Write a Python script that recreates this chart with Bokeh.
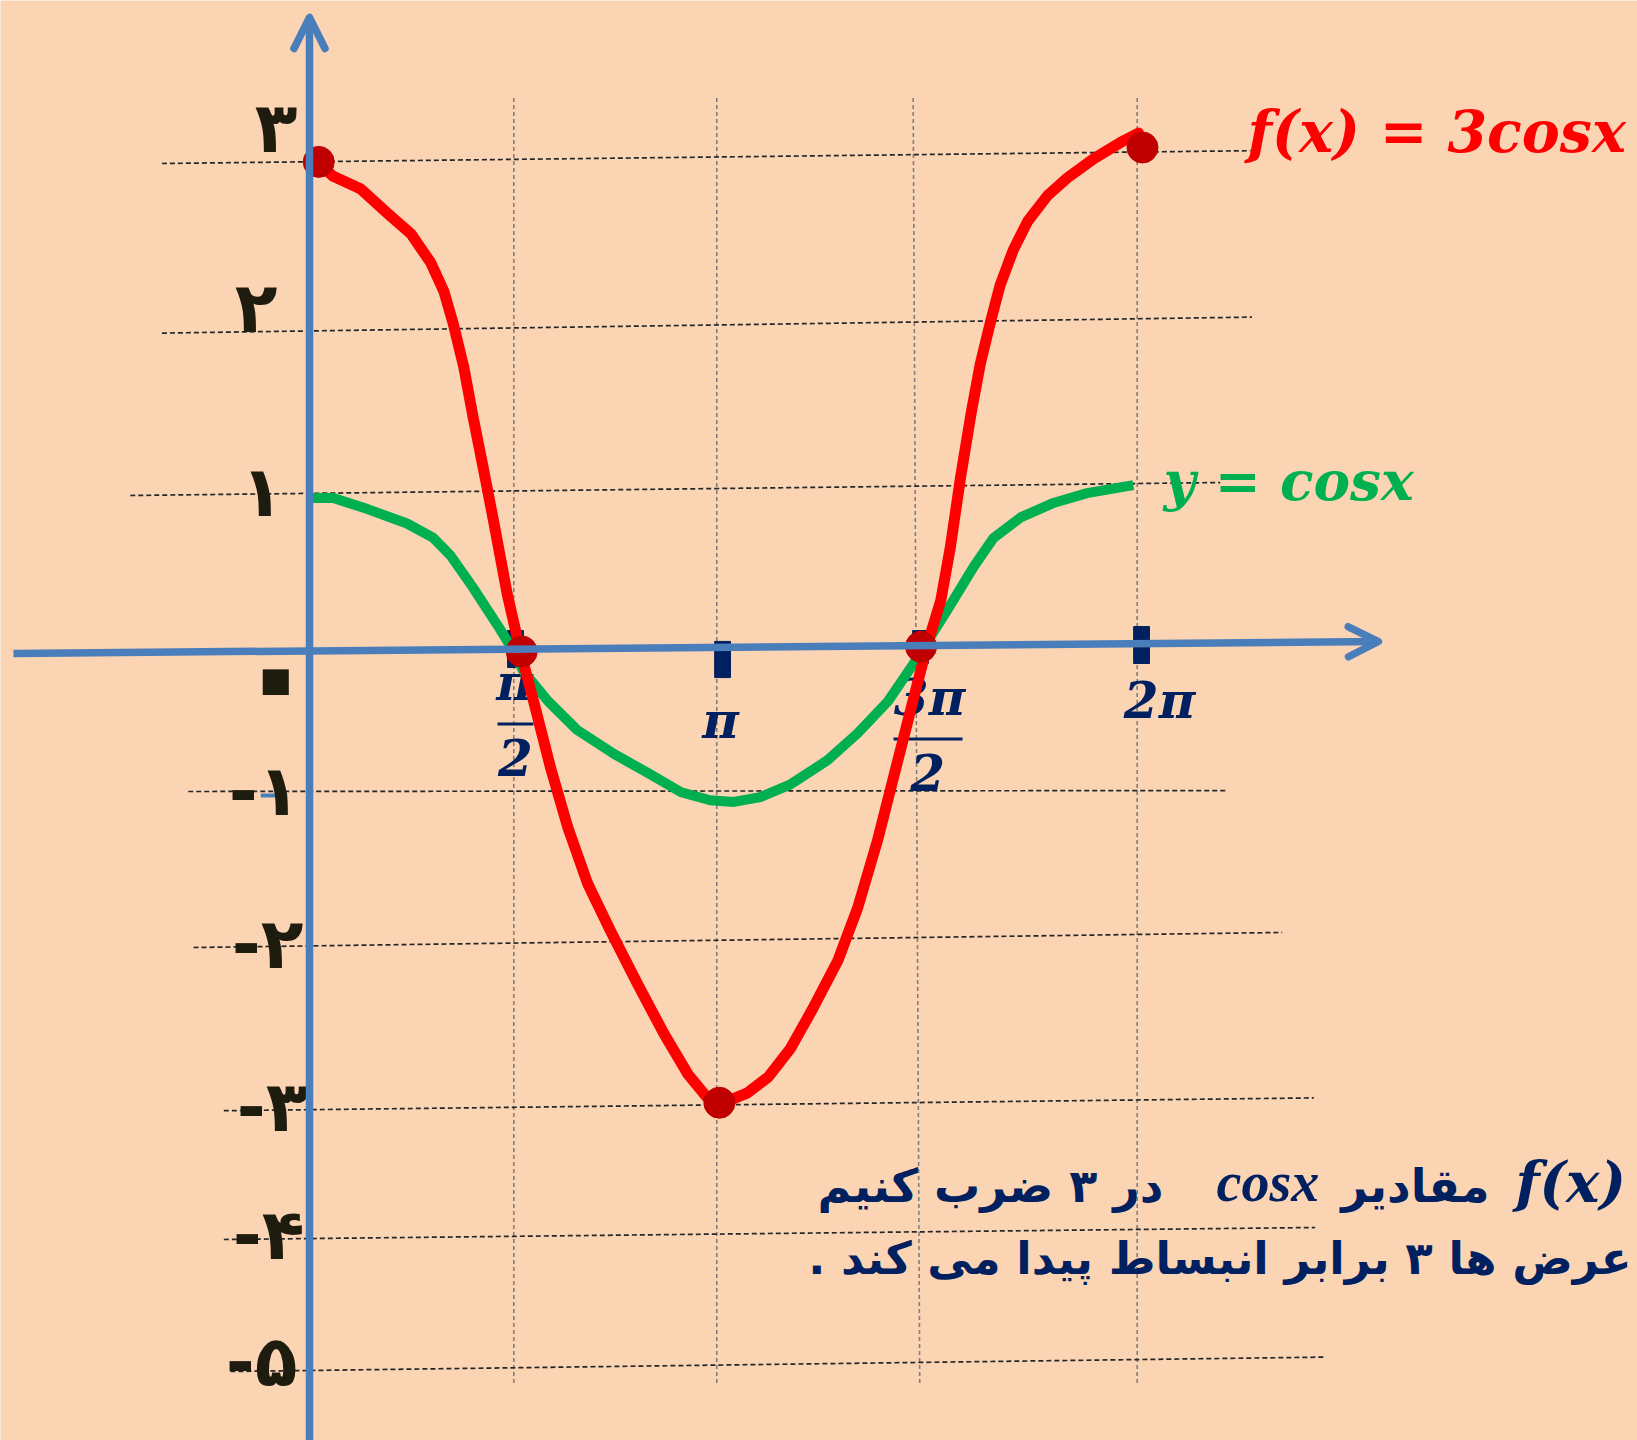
from bokeh.plotting import figure
from bokeh.models import Range1d, Arrow, OpenHead
from bokeh.core.properties import value
from bokeh.embed import file_html
from bokeh.resources import INLINE

# ---------------- data (x in radians, y in grid units) ----------------
# sketched curve of f(x) = 3cos x
red_x = [0.07, 0.18, 0.39, 0.59, 0.77, 0.92, 1.02, 1.09, 1.17, 1.24,
         1.32, 1.40, 1.50, 1.60, 1.70, 1.83, 1.96, 2.11, 2.28, 2.49,
         2.69, 2.87, 3.02, 3.17, 3.32, 3.48, 3.65, 3.82, 4.01, 4.16,
         4.31, 4.43, 4.56, 4.69, 4.79, 4.86, 4.94, 5.02, 5.09, 5.17,
         5.24, 5.34, 5.45, 5.60, 5.75, 5.95, 6.15, 6.29]
red_y = [3.05, 2.97, 2.89, 2.74, 2.61, 2.43, 2.25, 2.05, 1.78, 1.47,
         1.14, 0.80, 0.36, 0.00, -0.31, -0.73, -1.10, -1.45, -1.74, -2.08,
         -2.39, -2.64, -2.79, -2.81, -2.76, -2.66, -2.48, -2.23, -1.93, -1.60,
         -1.18, -0.79, -0.37, 0.05, 0.32, 0.64, 1.09, 1.49, 1.80, 2.07,
         2.29, 2.51, 2.69, 2.85, 2.96, 3.08, 3.18, 3.24]

# sketched curve of y = cos x
green_x = [0.00, 0.18, 0.44, 0.74, 0.94, 1.07, 1.24, 1.43, 1.55, 1.62,
           1.81, 2.03, 2.31, 2.57, 2.82, 3.04, 3.22, 3.42, 3.65, 3.93,
           4.16, 4.39, 4.58, 4.71, 4.84, 5.04, 5.19, 5.40, 5.65, 5.90, 6.25]
green_y = [0.96, 0.96, 0.89, 0.80, 0.71, 0.60, 0.40, 0.16, 0.00, -0.12,
           -0.31, -0.49, -0.64, -0.76, -0.88, -0.93, -0.94, -0.91, -0.83, -0.68,
           -0.51, -0.31, -0.08, 0.09, 0.26, 0.53, 0.71, 0.84, 0.93, 0.99, 1.04]

# key points of f(x): 0, pi/2, pi, 3pi/2, 2pi
dot_x = [0.07, 1.61, 3.11, 4.64, 6.32]
dot_y = [3.06, 0.00, -2.82, 0.03, 3.15]

# horizontal dashed guides (left end / right end)
hgrid_x0 = [-1.12, -1.12, -1.36, -0.92, -0.88, -0.65, -0.65, -0.60]
hgrid_x1 = [7.14, 7.15, 6.91, 6.97, 7.38, 7.62, 7.63, 7.70]
hgrid_y0 = [3.05, 1.99, 0.975, -0.875, -1.85, -2.87, -3.675, -4.50]
hgrid_y1 = [3.13, 2.09, 1.056, -0.869, -1.756, -2.79, -3.60, -4.41]

# vertical dashed guides at pi/2, pi, 3pi/2, 2pi (top / bottom)
vgrid_top_x = [1.55, 3.09, 4.58, 6.28]
vgrid_bot_x = [1.55, 3.09, 4.63, 6.28]
vgrid_top, vgrid_bot = 3.46, -4.58

# y-axis labels and the level each one sits on
ylab_text = ["۳", "۲", "۱", "-۱", "-۲", "-۳", "-۴", "-۵"]
ylab_level = [3.06, 2.00, 0.99, -0.88, -1.84, -2.87, -3.67, -4.50]
zero_label = "۰"

# x-axis ticks
tick_x = [1.563, 3.134, 4.636, 6.313]
tick_top = [0.131, 0.063, 0.131, 0.156]
tick_bot = [-0.10, -0.163, -0.075, -0.075]
xl_text = ["π", "2", "π", "3π", "2", "2π"]
xl_tick = [0, 0, 1, 2, 2, 3]

# ---------------- styling ----------------
BG = "#FBD4B4"
BLUE = "#4A7EBB"
NAVY = "#002060"
INK = "#1E1B0F"
RED = "#FF0000"
DARKRED = "#C00000"
GREEN = "#00B050"

PX_X = 131.8   # pixels per x unit
PX_Y = 160.0   # pixels per y unit
X0 = -2.3445
Y1 = 4.06875
W, H = 1637, 1440


def lift(size):
    # pull the alphabetic baseline up to where it is meant to sit
    return -0.37 * size


p = figure(width=W, height=H,
           x_range=Range1d(X0, X0 + W / PX_X),
           y_range=Range1d(Y1 - H / PX_Y, Y1),
           output_backend="svg", toolbar_location=None,
           x_axis_location=None, y_axis_location=None,
           min_border=0, background_fill_color=BG, border_fill_color=BG)
p.grid.visible = False
p.outline_line_color = None

# guides
p.segment(x0=vgrid_top_x, y0=vgrid_top, x1=vgrid_bot_x, y1=vgrid_bot,
          line_color="#7F7F7F", line_width=1.6, line_dash="4 3")
p.segment(x0=hgrid_x0, y0=hgrid_y0, x1=hgrid_x1, y1=hgrid_y1,
          line_color="#262626", line_width=1.7, line_dash="5 3")

# axes with open arrow heads
p.add_layout(Arrow(end=OpenHead(size=31, line_color=BLUE, line_width=7.5, line_cap="round", line_join="round"),
                   x_start=0.0, y_start=Y1 - H / PX_Y, x_end=0.0, y_end=3.9625,
                   line_color=BLUE, line_width=7.5))
p.add_layout(Arrow(end=OpenHead(size=30, line_color=BLUE, line_width=7.5, line_cap="round", line_join="round"),
                   x_start=-2.246, y_start=-0.0125, x_end=8.11, y_end=0.0625,
                   line_color=BLUE, line_width=7.5))
p.segment(x0=[-0.37], y0=[-0.90], x1=[-0.17], y1=[-0.90], line_color=BLUE, line_width=4)

# ticks on the x axis
p.vbar(x=tick_x, width=0.12, top=tick_top, bottom=tick_bot, color=NAVY)

# y labels
ysize = 70
p.text(x=0, y=ylab_level, text=ylab_text,
       x_offset=[-12, -32, -26, -9, -6, -1, -5, -12],
       y_offset=[d + lift(ysize) for d in [-8, 2, 25, 25, 24, 22, 22, 16]],
       text_align="right", text_baseline="alphabetic",
       text_font=value("DejaVu Sans"), text_font_style="bold",
       text_font_size=f"{ysize}px", text_color=INK)
p.text(x=[0], y=[0], text=[zero_label], x_offset=12, y_offset=20,
       text_align="right", text_baseline="alphabetic",
       text_font=value("DejaVu Sans"), text_font_style="bold",
       text_font_size="150px", text_color=INK)

# x labels
math_font = value("DejaVu Serif")
xsize = 50
p.text(x=[tick_x[i] for i in xl_tick], y=0, text=xl_text,
       x_offset=[-1, 0, -2, 9, 7, 18],
       y_offset=[d + lift(xsize) for d in [49, 124, 87, 64, 139, 67]],
       text_align="center", text_baseline="alphabetic",
       text_font=math_font, text_font_style="bold italic",
       text_font_size=f"{xsize}px", text_color=NAVY)
# fraction bars
p.segment(x0=[tick_x[0] - 18 / PX_X, tick_x[2] - 27 / PX_X],
          x1=[tick_x[0] + 18 / PX_X, tick_x[2] + 42 / PX_X],
          y0=[-72.5 / PX_Y, -87.5 / PX_Y], y1=[-72.5 / PX_Y, -87.5 / PX_Y],
          line_color=NAVY, line_width=3)

# curves
p.line(green_x, green_y, line_color=GREEN, line_width=10, line_join="round")
p.line(red_x, red_y, line_color=RED, line_width=11, line_join="round", line_cap="round")
p.scatter(dot_x, dot_y, size=31, color=DARKRED)

# curve names
p.text(x=[7.117], y=[3.119], text=["f(x) = 3cosx"], y_offset=lift(57), text_align="left",
       text_baseline="alphabetic", text_font=math_font, text_font_style="bold italic",
       text_font_size="57px", text_color=RED)
p.text(x=[6.48], y=[0.944], text=["y = cosx"], y_offset=lift(55), text_align="left",
       text_baseline="alphabetic", text_font=math_font, text_font_style="bold italic",
       text_font_size="55px", text_color=GREEN)

# explanation
fa_font = value("DejaVu Sans")
p.text(x=[6.479, 8.953], y=[-3.444, -3.444], text=["در ۳ ضرب کنیم", "مقادیر"],
       y_offset=lift(46), text_align="right",
       text_baseline="alphabetic", text_font=fa_font, text_font_style="bold",
       text_font_size="46px", text_color=NAVY)
p.text(x=[6.882], y=[-3.444], text=["cosx"], y_offset=lift(56), text_align="left",
       text_baseline="alphabetic", text_font=value("Liberation Serif"),
       text_font_style="bold italic", text_font_size="56px", text_color=NAVY)
p.text(x=[9.150], y=[-3.444], text=["f(x)"], y_offset=lift(56), text_align="left",
       text_baseline="alphabetic", text_font=math_font,
       text_font_style="bold italic", text_font_size="56px", text_color=NAVY)
p.text(x=[10.03], y=[-3.90], text=["عرض ها ۳ برابر انبساط پیدا می کند .\u200f"],
       y_offset=lift(45), text_align="right", text_baseline="alphabetic", text_font=fa_font,
       text_font_style="bold", text_font_size="45px", text_color=NAVY)

open("out.html", "w").write(file_html(p, INLINE))
